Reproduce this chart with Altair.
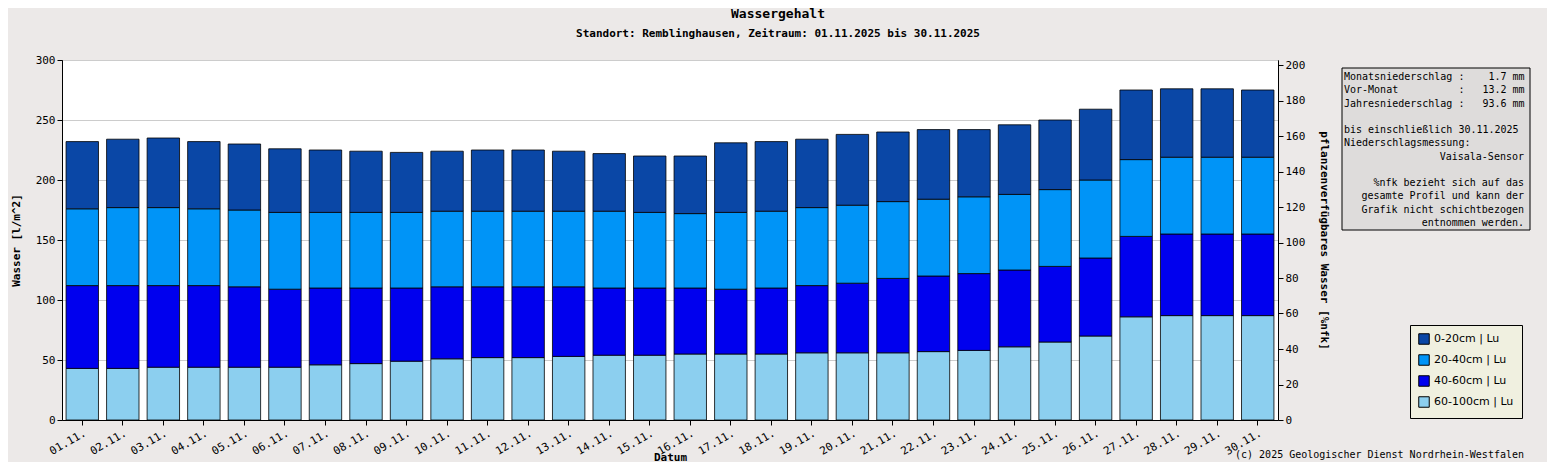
import altair as alt
import pandas as pd

days = [f"{d:02d}.11." for d in range(1, 31)]
# cumulative tops of the stacked layers, in l/m^2
top_60_100 = [43, 43, 44, 44, 44, 44, 46, 47, 49, 51, 52, 52, 53, 54, 54,
              55, 55, 55, 56, 56, 56, 57, 58, 61, 65, 70, 86, 87, 87, 87]
top_40_60 = [112, 112, 112, 112, 111, 109, 110, 110, 110, 111, 111, 111, 111, 110, 110,
             110, 109, 110, 112, 114, 118, 120, 122, 125, 128, 135, 153, 155, 155, 155]
top_20_40 = [176, 177, 177, 176, 175, 173, 173, 173, 173, 174, 174, 174, 174, 174, 173,
             172, 173, 174, 177, 179, 182, 184, 186, 188, 192, 200, 217, 219, 219, 219]
top_0_20 = [232, 234, 235, 232, 230, 226, 225, 224, 223, 224, 225, 225, 224, 222, 220,
            220, 231, 232, 234, 238, 240, 242, 242, 246, 250, 259, 275, 276, 276, 275]

layers = ["0-20cm | Lu", "20-40cm | Lu", "40-60cm | Lu", "60-100cm | Lu"]
colors = ["#0a47a6", "#0094f7", "#0000ee", "#8ccfef"]

rows = []
for i, d in enumerate(days):
    stack = [(layers[3], 0, top_60_100[i]), (layers[2], top_60_100[i], top_40_60[i]),
             (layers[1], top_40_60[i], top_20_40[i]), (layers[0], top_20_40[i], top_0_20[i])]
    for name, lo, hi in stack:
        rows.append({"Datum": d, "Schicht": name, "lo": lo, "hi": hi})
df = pd.DataFrame(rows)

info_lines = [
    ("Monatsniederschlag :    1.7 mm", "left"),
    ("Vor-Monat          :   13.2 mm", "left"),
    ("Jahresniederschlag :   93.6 mm", "left"),
    ("", "left"),
    ("bis einschließlich 30.11.2025", "left"),
    ("Niederschlagsmessung:", "left"),
    ("Vaisala-Sensor", "right"),
    ("", "left"),
    ("%nfk bezieht sich auf das", "right"),
    ("gesamte Profil und kann der", "right"),
    ("Grafik nicht schichtbezogen", "right"),
    ("entnommen werden.", "right"),
]

W, H = 1216, 360
font = "DejaVu Sans Mono"

bars = alt.Chart(df).mark_bar(stroke="black", strokeWidth=0.8).encode(
    x=alt.X("Datum:N", sort=days, title="Datum",
            scale=alt.Scale(paddingInner=0.2, paddingOuter=0.1),
            axis=alt.Axis(labelAngle=-30, labelAlign="right", labelBaseline="top",
                          titleFontWeight="bold", titleY=37, titleBaseline="middle")),
    y=alt.Y("lo:Q", title="Wasser [l/m^2]",
            scale=alt.Scale(domain=[0, 300]),
            axis=alt.Axis(values=list(range(0, 301, 50)), grid=True,
                          gridColor="#cccccc", titleFontWeight="bold", titlePadding=14)),
    y2="hi:Q",
    color=alt.Color("Schicht:N", sort=layers,
                    scale=alt.Scale(domain=layers, range=colors),
                    legend=alt.Legend(title=None, orient="none", legendX=1348, legendY=265,
                                      symbolType="square", symbolSize=110,
                                      symbolStrokeColor="black", symbolStrokeWidth=1,
                                      fillColor="#f0f0e0", strokeColor="black",
                                      padding=8, labelFontSize=11, labelFont="DejaVu Sans",
                                      rowPadding=5)),
)

right = alt.Chart(pd.DataFrame({"v": [0]})).mark_point(opacity=0).encode(
    y=alt.Y("v:Q", title="pflanzenverfügbares Wasser [%nfk]",
            scale=alt.Scale(domain=[0, 200 * 360 / 355], nice=False),
            axis=alt.Axis(orient="right", values=list(range(0, 201, 20)), grid=False,
                          titleFontWeight="bold", titlePadding=14)),
)

box = alt.Chart(pd.DataFrame({"v": [0]})).mark_rect(
    fill="#dedcdb", stroke="black", strokeWidth=1).encode(
    x=alt.value(1280), x2=alt.value(1468), y=alt.value(8), y2=alt.value(170))

info = pd.DataFrame({"t": [l.replace(" ", "\u00a0") for l, _ in info_lines],
                     "row": list(range(len(info_lines))),
                     "a": [a for _, a in info_lines]})
row_y = alt.Y("row:Q", scale=alt.Scale(domain=[0, 11], range=[17, 163]), axis=None)
info_left = alt.Chart(info[info.a == "left"]).mark_text(
    align="left", baseline="middle", font=font, fontSize=10).encode(
    text="t:N", x=alt.value(1282), y=row_y)
info_right = alt.Chart(info[info.a == "right"]).mark_text(
    align="right", baseline="middle", font=font, fontSize=10).encode(
    text="t:N", x=alt.value(1462), y=row_y)
footer = alt.Chart(pd.DataFrame({"t": ["(c) 2025 Geologischer Dienst Nordrhein-Westfalen"]})).mark_text(
    align="right", baseline="middle", font=font, fontSize=10).encode(
    text="t:N", x=alt.value(1462), y=alt.value(395))
title = alt.Chart(pd.DataFrame({"t": ["Wassergehalt"]})).mark_text(
    align="center", baseline="middle", font=font, fontSize=13, fontWeight="bold").encode(
    text="t:N", x=alt.value(716), y=alt.value(-46))
subtitle = alt.Chart(pd.DataFrame({"t": ["Standort: Remblinghausen, Zeitraum: 01.11.2025 bis 30.11.2025"]})).mark_text(
    align="center", baseline="middle", font=font, fontSize=11, fontWeight="bold").encode(
    text="t:N", x=alt.value(716), y=alt.value(-26))

chart = alt.layer(bars, right, box, info_left, info_right, footer, title, subtitle).resolve_scale(
    y="independent"
).properties(
    width=W, height=H,
    autosize=alt.AutoSizeParams(type="none"),
    padding={"left": 54, "top": 52, "right": 269, "bottom": 42},
).configure(
    background="#ece9e8",
    font=font,
).configure_view(
    fill="white", stroke="black", strokeWidth=1
).configure_axis(
    labelFont=font, titleFont=font, labelFontSize=11, titleFontSize=11,
    labelColor="black", titleColor="black", domainColor="black", tickColor="black",
)

chart.save("out.html", embed_options={"renderer": "svg", "actions": False})
